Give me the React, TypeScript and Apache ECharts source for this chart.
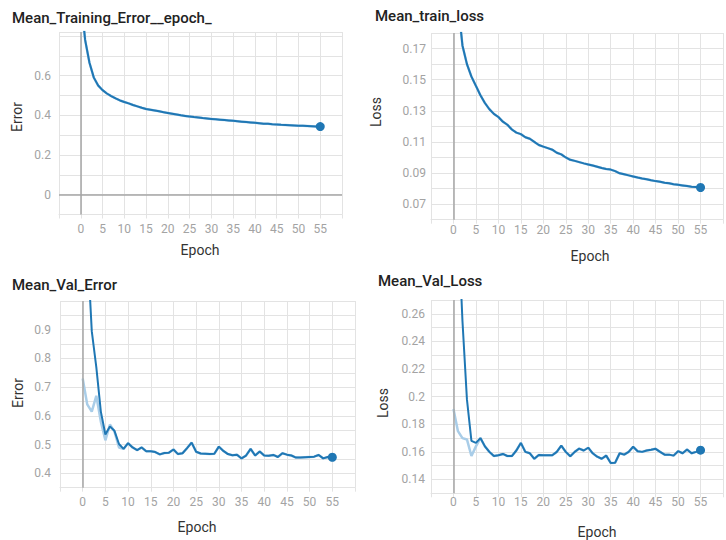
import React, { useEffect, useRef } from "react";
import * as echarts from "echarts";

// ---- data (epochs are the array indices 0..55) ----
const trainError = [1.0, 0.78, 0.665, 0.59, 0.55, 0.527, 0.51, 0.497, 0.485, 0.475, 0.467, 0.46, 0.452, 0.445, 0.438, 0.432, 0.428, 0.424, 0.42, 0.416, 0.412, 0.408, 0.404, 0.4, 0.397, 0.394, 0.391, 0.389, 0.386, 0.384, 0.382, 0.38, 0.378, 0.376, 0.374, 0.372, 0.37, 0.368, 0.366, 0.364, 0.362, 0.36, 0.358, 0.357, 0.355, 0.354, 0.352, 0.351, 0.35, 0.349, 0.348, 0.347, 0.346, 0.345, 0.344, 0.343];
const trainLoss = [0.25, 0.2, 0.172, 0.16, 0.152, 0.146, 0.14, 0.135, 0.131, 0.128, 0.126, 0.123, 0.121, 0.118, 0.116, 0.115, 0.113, 0.112, 0.11, 0.108, 0.107, 0.106, 0.105, 0.103, 0.102, 0.1, 0.0985, 0.0978, 0.097, 0.0962, 0.0955, 0.0948, 0.094, 0.0932, 0.0926, 0.0922, 0.0912, 0.0898, 0.0892, 0.0885, 0.0878, 0.0871, 0.0865, 0.086, 0.0853, 0.0848, 0.0844, 0.0838, 0.0834, 0.0828, 0.0824, 0.082, 0.0816, 0.0812, 0.081, 0.0807];
const valError = [1.5, 1.2, 0.895, 0.77, 0.615, 0.535, 0.563, 0.548, 0.502, 0.485, 0.505, 0.49, 0.481, 0.49, 0.477, 0.477, 0.474, 0.466, 0.471, 0.472, 0.483, 0.467, 0.47, 0.488, 0.507, 0.475, 0.469, 0.468, 0.467, 0.468, 0.493, 0.478, 0.467, 0.463, 0.465, 0.452, 0.462, 0.485, 0.462, 0.476, 0.462, 0.461, 0.464, 0.457, 0.47, 0.465, 0.462, 0.455, 0.455, 0.456, 0.457, 0.458, 0.464, 0.452, 0.457, 0.456];
const valErrorRaw = [0.73, 0.64, 0.615, 0.67, 0.58, 0.515, 0.57, 0.545, 0.49, 0.485, 0.505, 0.49, 0.481, 0.49, 0.477, 0.477, 0.474, 0.466, 0.471, 0.472, 0.483, 0.467, 0.47, 0.488, 0.507, 0.475, 0.469, 0.468, 0.467, 0.468, 0.493, 0.478, 0.467, 0.463, 0.465, 0.452, 0.462, 0.485, 0.462, 0.476, 0.462, 0.461, 0.464, 0.457, 0.47, 0.465, 0.462, 0.455, 0.455, 0.456, 0.457, 0.458, 0.464, 0.452, 0.457, 0.456];
const valLoss = [0.45, 0.33, 0.255, 0.198, 0.168, 0.1665, 0.17, 0.164, 0.16, 0.157, 0.1575, 0.1585, 0.157, 0.157, 0.161, 0.1665, 0.16, 0.159, 0.155, 0.1578, 0.1576, 0.1576, 0.1576, 0.16, 0.1645, 0.16, 0.1568, 0.16, 0.1624, 0.161, 0.163, 0.159, 0.1565, 0.155, 0.1573, 0.152, 0.1522, 0.159, 0.158, 0.16, 0.1637, 0.1605, 0.16, 0.161, 0.1615, 0.1622, 0.16, 0.158, 0.158, 0.1573, 0.1605, 0.159, 0.1617, 0.159, 0.16, 0.1612];
const valLossRaw = [0.191, 0.175, 0.17, 0.169, 0.157, 0.164, 0.17, 0.164, 0.16, 0.157, 0.1575, 0.1585, 0.157, 0.157, 0.161, 0.1665, 0.16, 0.159, 0.155, 0.1578, 0.1576, 0.1576, 0.1576, 0.16, 0.1645, 0.16, 0.1568, 0.16, 0.1624, 0.161, 0.163, 0.159, 0.1565, 0.155, 0.1573, 0.152, 0.1522, 0.159, 0.158, 0.16, 0.1637, 0.1605, 0.16, 0.161, 0.1615, 0.1622, 0.16, 0.158, 0.158, 0.1573, 0.1605, 0.159, 0.1617, 0.159, 0.16, 0.1612];

// ---- tick labels ----
const xTickLabels = [0, 5, 10, 15, 20, 25, 30, 35, 40, 45, 50, 55];
const trainErrorTicks = [0, 0.2, 0.4, 0.6];
const trainLossTicks = [0.07, 0.09, 0.11, 0.13, 0.15, 0.17];
const valErrorTicks = [0.4, 0.5, 0.6, 0.7, 0.8, 0.9];
const valLossTicks = [0.14, 0.16, 0.18, 0.2, 0.22, 0.24, 0.26];

const titles = ["Mean_Training_Error__epoch_", "Mean_train_loss", "Mean_Val_Error", "Mean_Val_Loss"];
const yNames = ["Error", "Loss", "Error", "Loss"];
const xName = "Epoch";

const FONT = "Roboto, 'Noto Sans', sans-serif";
const DARK = "#1f77b4";
const LIGHT = "#a9cde8";
const GRIDC = "#e3e3e3";
const ZEROC = "#a6a6a6";
const LABELC = "#a3a3a3";

const panels = [
  { smooth: trainError, raw: trainError, ticks: trainErrorTicks, min: -0.1, max: 0.82, interval: 0.1,
    grid: { left: 59, top: 32, width: 283, height: 182.5 }, zeroY: true, xMargin: 8, yMargin: 8,
    title: [12, 18], yName: [17, 117], xName: [200, 250] },
  { smooth: trainLoss, raw: trainLoss, ticks: trainLossTicks, min: 0.06, max: 0.18, interval: 0.01,
    grid: { left: 431, top: 33, width: 299, height: 186.7 }, zeroY: false, xMargin: 4, yMargin: 5,
    title: [375, 16], yName: [376, 112], xName: [590, 256] },
  { smooth: valError, raw: valErrorRaw, ticks: valErrorTicks, min: 0.35, max: 1.0, interval: 0.05,
    grid: { left: 60, top: 301, width: 295, height: 186.7 }, zeroY: false, xMargin: 8, yMargin: 9,
    title: [12, 285], yName: [18, 393], xName: [197, 527] },
  { smooth: valLoss, raw: valLossRaw, ticks: valLossTicks, min: 0.13, max: 0.27, interval: 0.01,
    grid: { left: 431, top: 300, width: 305.5, height: 193.3 }, zeroY: false, xMargin: 3, yMargin: 6,
    title: [378, 281], yName: [383, 403], xName: [597, 532] },
];

const matchTick = (v: number, list: number[]) => {
  for (const t of list) if (Math.abs(v - t) < 1e-6) return String(t);
  return "";
};

export default function App() {
  const ref = useRef<HTMLDivElement>(null);
  useEffect(() => {
    document.body.style.margin = "0";
    if (!ref.current) return;
    const chart = echarts.init(ref.current, undefined, { renderer: "svg" });

    const grids: any[] = [];
    const xAxes: any[] = [];
    const yAxes: any[] = [];
    const series: any[] = [];
    const graphics: any[] = [];

    panels.forEach((p, i) => {
      grids.push({ ...p.grid, show: false });
      xAxes.push({
        type: "value", gridIndex: i, min: -5, max: 60, interval: 5,
        axisLine: { show: true, onZero: false, lineStyle: { color: GRIDC } },
        axisTick: { show: true, length: 4, lineStyle: { color: GRIDC } },
        axisLabel: { margin: p.xMargin, color: LABELC, fontSize: 12, fontFamily: FONT,
          formatter: (v: number) => matchTick(v, xTickLabels) },
        splitLine: { show: true, lineStyle: { color: GRIDC, width: 1 } },
      });
      yAxes.push({
        type: "value", gridIndex: i, min: p.min, max: p.max, interval: p.interval,
        axisLine: { show: false },
        axisTick: { show: true, length: 4, lineStyle: { color: GRIDC } },
        axisLabel: { margin: p.yMargin, color: LABELC, fontSize: 12, fontFamily: FONT,
          formatter: (v: number) => matchTick(v, p.ticks) },
        splitLine: { show: true, lineStyle: { color: GRIDC, width: 1 } },
      });
      const zeroData: any[] = [{ xAxis: 0 }];
      if (p.zeroY) zeroData.push({ yAxis: 0 });
      series.push({
        type: "line", xAxisIndex: i, yAxisIndex: i, symbol: "none", silent: true,
        data: p.raw.map((v, k) => [k, v]),
        lineStyle: { color: LIGHT, width: 2.5 }, z: 2,
        markLine: { silent: true, symbol: ["none", "none"], label: { show: false },
          lineStyle: { color: ZEROC, width: 1.5, type: "solid" }, data: zeroData },
      });
      const last = p.smooth.length - 1;
      series.push({
        type: "line", xAxisIndex: i, yAxisIndex: i, symbol: "none", showSymbol: true, silent: true,
        data: p.smooth.map((v, k) =>
          k === last
            ? { value: [k, v], symbol: "circle", symbolSize: 9, itemStyle: { color: DARK } }
            : [k, v]),
        lineStyle: { color: DARK, width: 2 }, itemStyle: { color: DARK }, z: 3,
      });
      graphics.push({ type: "text", x: p.title[0], y: p.title[1],
        style: { text: titles[i], font: `500 15px ${FONT}`, fill: "#222", textAlign: "left", textVerticalAlign: "middle" } });
      graphics.push({ type: "text", x: p.yName[0], y: p.yName[1], rotation: Math.PI / 2,
        style: { text: yNames[i], font: `14px ${FONT}`, fill: "#333", textAlign: "center", textVerticalAlign: "middle" } });
      graphics.push({ type: "text", x: p.xName[0], y: p.xName[1],
        style: { text: xName, font: `14px ${FONT}`, fill: "#333", textAlign: "center", textVerticalAlign: "middle" } });
    });

    chart.setOption({
      animation: false,
      backgroundColor: "#ffffff",
      grid: grids,
      xAxis: xAxes,
      yAxis: yAxes,
      series,
      graphic: graphics,
    });
    return () => chart.dispose();
  }, []);
  return <div ref={ref} style={{ position: "fixed", left: 0, top: 0, width: 726, height: 540 }} />;
}
